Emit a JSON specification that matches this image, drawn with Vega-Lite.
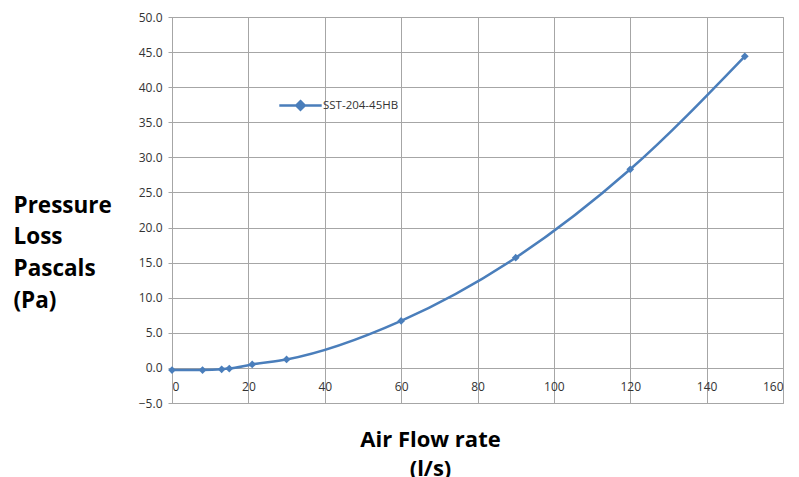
{
  "$schema": "https://vega.github.io/schema/vega-lite/v6.json",
  "width": 611,
  "height": 386,
  "autosize": {"type": "none"},
  "padding": {"left": 172, "top": 17, "right": 16, "bottom": 74},
  "background": "white",
  "config": {
    "font": "Open Sans",
    "view": {"stroke": "#a6a6a6", "strokeWidth": 1},
    "axis": {"gridColor": "#a6a6a6", "gridOpacity": 1, "gridWidth": 1, "labelColor": "#333333", "labelFontSize": 12, "labelFont": "Open Sans", "labelOverlap": false}
  },
  "data": {"values": [
    {"flow": 0, "pressure": -0.3, "series": "SST-204-45HB"},
    {"flow": 8, "pressure": -0.3, "series": "SST-204-45HB"},
    {"flow": 13, "pressure": -0.2, "series": "SST-204-45HB"},
    {"flow": 15, "pressure": -0.1, "series": "SST-204-45HB"},
    {"flow": 21, "pressure": 0.5, "series": "SST-204-45HB"},
    {"flow": 30, "pressure": 1.2, "series": "SST-204-45HB"},
    {"flow": 60, "pressure": 6.7, "series": "SST-204-45HB"},
    {"flow": 90, "pressure": 15.7, "series": "SST-204-45HB"},
    {"flow": 120, "pressure": 28.3, "series": "SST-204-45HB"},
    {"flow": 150, "pressure": 44.4, "series": "SST-204-45HB"}
  ]},
  "encoding": {
    "y": {"field": "pressure", "type": "quantitative", "scale": {"domain": [-5, 50], "nice": false, "zero": false},
      "axis": {"values": [-5,0,5,10,15,20,25,30,35,40,45,50], "format": ".1f", "grid": true, "domain": true, "domainColor": "#a6a6a6", "tickColor": "#a6a6a6", "tickSize": 4, "labelPadding": 6, "labelOverlap": false,
        "title": ["Pressure", "Loss", "Pascals", "(Pa)"], "titleAngle": 0, "titleX": -159, "titleY": 195, "titleAlign": "left", "titleBaseline": "alphabetic", "titleFontSize": 22.5, "titleFontWeight": "bold", "titleColor": "#000000", "titleLineHeight": 31.7}},
    "color": {"field": "series", "type": "nominal", "scale": {"range": ["#4a7ebb"]},
      "legend": {"orient": "none", "legendX": 106, "legendY": 66, "title": null, "symbolType": "M-1,0L1,0M0,-0.2L0.2,0L0,0.2L-0.2,0Z", "symbolStrokeWidth": 2.5, "symbolFillColor": "#4a7ebb", "symbolStrokeColor": "#4a7ebb", "symbolSize": 1800, "labelFontSize": 11.5, "labelColor": "#333333", "labelFont": "Open Sans", "labelOffset": 0}}
  },
  "layer": [
    {
      "mark": {"type": "line", "interpolate": "monotone", "strokeWidth": 2.5},
      "encoding": {
        "x": {"field": "flow", "type": "quantitative", "scale": {"domain": [0, 160], "nice": false},
          "axis": {"values": [0,20,40,60,80,100,120,140,160], "grid": true, "labels": false, "ticks": false, "domain": false, "title": null}}
      }
    },
    {
      "mark": {"type": "point", "shape": "diamond", "filled": true, "size": 60, "opacity": 1},
      "encoding": {
        "x": {"field": "flow", "type": "quantitative",
          "axis": {"orient": "bottom", "offset": -35, "values": [0,20,40,60,80,100,120,140,160], "grid": false, "domain": false, "ticks": false, "labelPadding": 13,
            "title": ["Air Flow rate", "(l/s)"], "titleX": 258, "titleY": 78, "titleBaseline": "alphabetic", "titleFontSize": 22, "titleFontWeight": "bold", "titleColor": "#000000", "titleLineHeight": 29}}
      }
    }
  ],
  "resolve": {"axis": {"x": "independent"}}
}
